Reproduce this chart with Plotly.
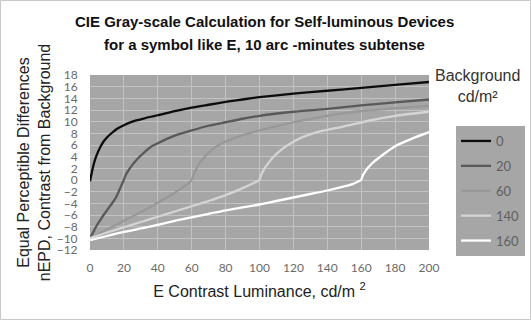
import plotly.graph_objects as go

# ---- data ----
legend_labels = ["0", "20", "60", "140", "160"]
cusp_x = [0, 20, 60, 100, 160]

x_bg0 = [0, 1, 2, 3, 4, 6, 8, 10, 13, 16, 20, 25, 30, 35, 40, 50, 60, 70, 80, 90, 100, 120, 140, 160, 180, 200]
y_bg0 = [-0.2, 1.2, 2.5, 3.5, 4.3, 5.6, 6.6, 7.3, 8.1, 8.8, 9.4, 10.0, 10.4, 10.8, 11.1, 11.8, 12.4, 12.9, 13.4, 13.8, 14.2, 14.8, 15.3, 15.8, 16.3, 16.8]

x_bg20 = [0, 2, 4, 6, 8, 10, 12, 14, 16, 18, 19, 20, 21, 23, 25, 27, 30, 33, 36, 40, 45, 50, 60, 70, 80, 90, 100, 120, 140, 160, 180, 200]
y_bg20 = [-10, -8.9, -7.8, -6.9, -6.0, -5.2, -4.4, -3.6, -2.6, -1.3, -0.6, 0.0, 0.8, 1.8, 2.6, 3.3, 4.2, 5.0, 5.7, 6.3, 7.0, 7.6, 8.5, 9.3, 9.9, 10.5, 11.0, 11.7, 12.2, 12.8, 13.3, 13.8]

x_bg60 = [0, 10, 20, 30, 40, 45, 50, 55, 58, 60, 61, 62, 64, 66, 69, 72, 76, 80, 90, 100, 120, 140, 150, 160, 180, 200]
y_bg60 = [-10, -8.5, -7.0, -5.5, -3.9, -3.1, -2.2, -1.2, -0.6, 0.0, 0.8, 1.5, 2.6, 3.4, 4.4, 5.2, 6.0, 6.6, 7.7, 8.5, 9.9, 11.0, 11.5, 11.8, 12.3, 12.7]

x_bg140 = [0, 10, 20, 30, 40, 50, 60, 70, 80, 90, 96, 100, 101, 103, 105, 108, 113, 118, 125, 135, 150, 165, 180, 200]
y_bg140 = [-10, -9.0, -8.1, -7.2, -6.3, -5.4, -4.5, -3.6, -2.6, -1.4, -0.6, 0.0, 0.9, 2.0, 2.8, 3.9, 5.2, 6.2, 7.3, 8.3, 9.2, 10.2, 11.0, 11.7]

x_bg160 = [0, 10, 20, 30, 40, 50, 60, 70, 80, 90, 100, 110, 120, 130, 140, 150, 155, 160, 161, 162, 164, 167, 170, 175, 180, 190, 200]
y_bg160 = [-10.3, -9.6, -8.9, -8.3, -7.7, -7.0, -6.4, -5.8, -5.2, -4.7, -4.2, -3.6, -3.0, -2.4, -1.8, -1.1, -0.7, 0.0, 0.8, 1.3, 2.1, 3.0, 3.7, 4.8, 5.8, 7.1, 8.2]

x_ticks = [0, 20, 40, 60, 80, 100, 120, 140, 160, 180, 200]
y_ticks = [18, 16, 14, 12, 10, 8, 6, 4, 2, 0, -2, -4, -6, -8, -10, -12]

series_x = [x_bg0, x_bg20, x_bg60, x_bg140, x_bg160]
series_y = [y_bg0, y_bg20, y_bg60, y_bg140, y_bg160]
colors = ["#0d0d0d", "#595959", "#989898", "#d4d4d4", "#ffffff"]

fig = go.Figure()
for lab, xs, ys, c, cx in zip(legend_labels, series_x, series_y, colors, cusp_x):
    k = xs.index(cx)
    segs = []
    if k > 0:
        segs.append((xs[:k + 1], ys[:k + 1]))
    segs.append((xs[k:], ys[k:]))
    for i, (sx, sy) in enumerate(segs):
        fig.add_trace(go.Scatter(x=sx, y=sy, mode="lines", name=lab, legendgroup=lab,
                                 showlegend=(i == len(segs) - 1),
                                 line=dict(color=c, width=2.3, shape="spline", smoothing=0.6)))

tick_font = dict(family="Lato, Carlito, sans-serif", size=12, color="#6a6a6a")
txt_font = "Liberation Sans, Arial, sans-serif"

fig.update_layout(
    width=531, height=320,
    margin=dict(l=90, r=102, t=75, b=70, autoexpand=False),
    paper_bgcolor="white",
    plot_bgcolor="#a6a6a6",
    xaxis=dict(range=[0, 200], tickvals=x_ticks, showgrid=True, gridcolor="#c2c2c2", gridwidth=1,
               zeroline=False, ticks="outside", ticklen=7, tickcolor="rgba(0,0,0,0)",
               tickfont=tick_font,
               title=dict(text="E Contrast Luminance, cd/m <sup>2</sup>", standoff=11,
                          font=dict(family=txt_font, size=16, color="#222222"))),
    yaxis=dict(range=[-12, 18], tickvals=y_ticks, showgrid=True, gridcolor="#c2c2c2", gridwidth=1,
               zeroline=False, ticks="outside", ticklen=9, tickcolor="rgba(0,0,0,0)",
               tickfont=tick_font,
               title=dict(text="Equal Perceptible Differences<br>nEPD, Contrast from Background",
                          standoff=2, font=dict(family=txt_font, size=16, color="#222222"))),
    legend=dict(x=(456 - 90) / 339, xanchor="left", y=(250 - 126) / 175, yanchor="top",
                bgcolor="#a6a6a6", tracegroupgap=5,
                font=dict(family="Lato, Carlito, sans-serif", size=13, color="#5f5f5f"),
                itemwidth=30),
    showlegend=True,
)

# title, two lines
fig.add_annotation(text="<b>CIE Gray-scale Calculation for Self-luminous Devices</b>",
                   xref="paper", yref="paper", x=(264 - 90) / 339, y=(250 - 22) / 175,
                   showarrow=False, xanchor="center", yanchor="middle",
                   font=dict(family=txt_font, size=15, color="#111111"))
fig.add_annotation(text="<b>for a symbol like E, 10 arc -minutes subtense</b>",
                   xref="paper", yref="paper", x=(264 - 90) / 339, y=(250 - 44) / 175,
                   showarrow=False, xanchor="center", yanchor="middle",
                   font=dict(family=txt_font, size=15, color="#111111"))

fig.add_annotation(text="Background<br>cd/m²", xref="paper", yref="paper",
                   x=(477 - 90) / 339, y=(250 - 65) / 175, showarrow=False,
                   xanchor="center", yanchor="top", align="center",
                   font=dict(family=txt_font, size=16, color="#333333"))

# outer chart border
fig.add_shape(type="rect", xref="paper", yref="paper",
              x0=(0.5 - 90) / 339, x1=(530.5 - 90) / 339,
              y0=(250 - 319.5) / 175, y1=(250 - 0.5) / 175,
              line=dict(color="#c8c8c8", width=1), fillcolor="rgba(0,0,0,0)", layer="below")

fig.write_html("out.html")
